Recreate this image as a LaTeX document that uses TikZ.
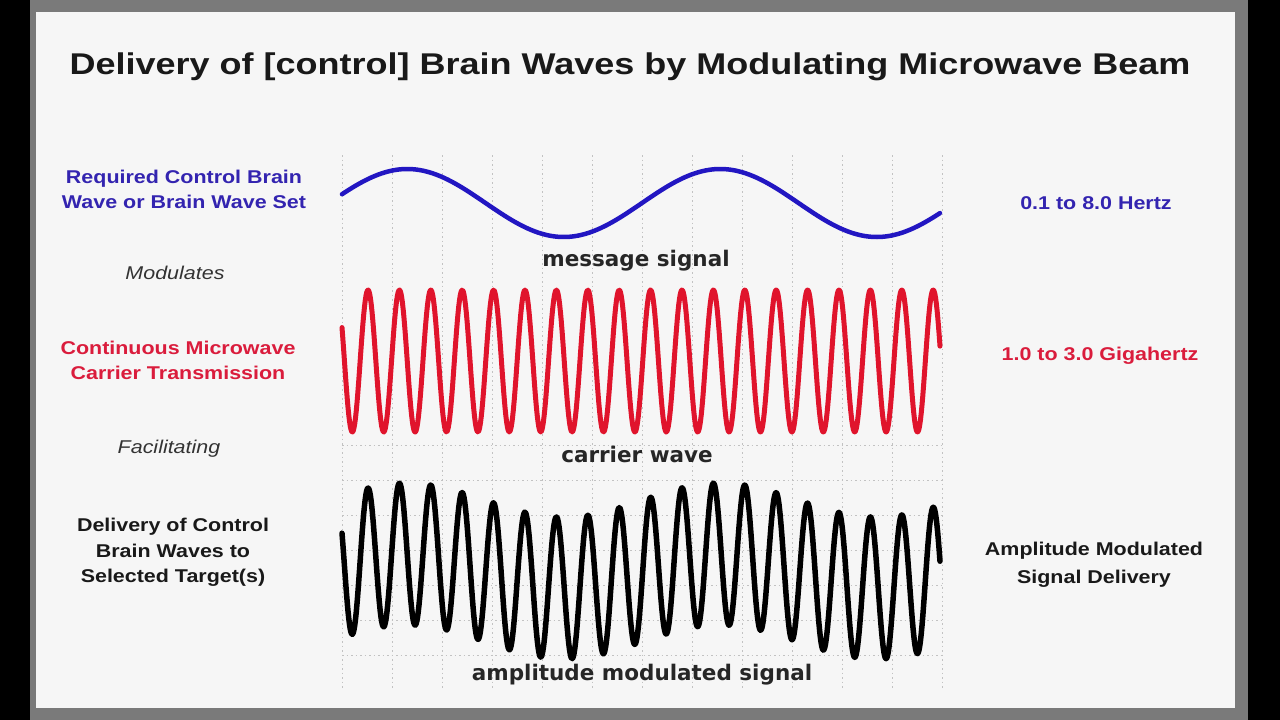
\documentclass[tikz,border=0pt]{standalone}
\usepackage{fontspec}
\newfontfamily\slidefont{Liberation Sans}[FakeStretch=1.16]
\newfontfamily\titlefont{Liberation Sans}[FakeStretch=1.2]
\newfontfamily\capfont{DejaVu Sans}
\usetikzlibrary{calc}

\definecolor{msgblue}{HTML}{2216C2}
\definecolor{textblue}{HTML}{3324B0}
\definecolor{carred}{HTML}{E0142C}
\definecolor{textred}{HTML}{DA1C3C}
\definecolor{framegray}{HTML}{7A7A7A}
\definecolor{slidebg}{HTML}{F6F6F6}
\definecolor{gridgray}{HTML}{C2C2C2}

\tikzset{
	sidetext/.style={font=\slidefont\fontsize{18.5}{25.5}\selectfont\bfseries, align=center, inner sep=0pt},
	softtext/.style={font=\slidefont\fontsize{18.5}{25.5}\selectfont\itshape, text=black!80, inner sep=0pt},
	captext/.style={font=\capfont\fontsize{21.5}{24}\selectfont\bfseries, text=black!85, inner sep=0pt},
	gridline/.style={gridgray, line width=0.9pt, dash pattern=on 1.5pt off 3pt},
	wave/.style={line width=5pt, line join=round, line cap=round}
}

\begin{document}
\begin{tikzpicture}[x=1pt, y=-1pt]
	% Parameters
	\def\wavel{342}
	\def\waver{940}
	\def\carperiod{31.4}
	\def\msgperiod{313}
	\def\gridstep{50}

	% Screen and slide frame
	\fill[black] (0,0) rectangle (1280,720);
	\fill[framegray] (30,0) rectangle (1248,720);
	\fill[slidebg] (36,12) rectangle (1235,708);
	\useasboundingbox (0,0) rectangle (1280,720);

	% Title
	\node[font=\titlefont\fontsize{30}{34}\selectfont\bfseries, text=black!90, inner sep=0pt] (title) at (630,67)
		{Delivery of [control] Brain Waves by Modulating Microwave Beam};

	% Dotted grid behind the waves
	\foreach \k in {0,...,12}
		\draw[gridline] ({\wavel+\gridstep*\k},155) -- ({\wavel+\gridstep*\k},688);
	\foreach \y in {445,480,...,655}
		\draw[gridline] (\wavel,\y) -- (942,\y);

	% Message signal
	\draw[wave, msgblue, line width=4.5pt] plot[domain=\wavel:\waver, samples=200]
		(\x, {203-34*sin(((\x-329)/\msgperiod)*360)});
	\node[captext] (capMessage) at (636,261) {message signal};

	% Carrier wave
	\draw[wave, carred] plot[domain=\wavel:\waver, samples=800]
		(\x, {361-71*cos(((\x-368)/\carperiod)*360)});
	\node[captext] (capCarrier) at (637,454) {carrier wave};

	% Modulated signal (carrier shifted by the message)
	\draw[wave, black, line width=5.5pt] plot[domain=\wavel:\waver, samples=800]
		(\x, {571-17*sin(((\x-329)/\msgperiod)*360)-71*cos(((\x-368)/\carperiod)*360)});
	\node[captext] (capAM) at (642,675) {amplitude modulated signal};

	% Left labels
	\node[sidetext, text=textblue] (lblMessage) at (184,189.5)
		{Required Control Brain\\Wave or Brain Wave Set};
	\node[softtext] (lblModulates) at (175,273) {Modulates};
	\node[sidetext, text=textred] (lblCarrier) at (178,360.5)
		{Continuous Microwave\\Carrier Transmission};
	\node[softtext] (lblFacilitating) at (169,449) {Facilitating};
	\node[sidetext, text=black!90] (lblDelivery) at (173,552.5)
		{Delivery of Control\\Brain Waves to\\Selected Target(s)};

	% Right labels
	\node[sidetext, text=textblue] (lblHertz) at (1096,203) {0.1 to 8.0 Hertz};
	\node[sidetext, text=textred] (lblGiga) at (1100,356) {1.0 to 3.0 Gigahertz};
	\node[sidetext, text=black!90, font=\slidefont\fontsize{18.5}{27.5}\selectfont\bfseries] (lblAM) at (1094,565)
		{Amplitude Modulated\\Signal Delivery};

\end{tikzpicture}
\end{document}
